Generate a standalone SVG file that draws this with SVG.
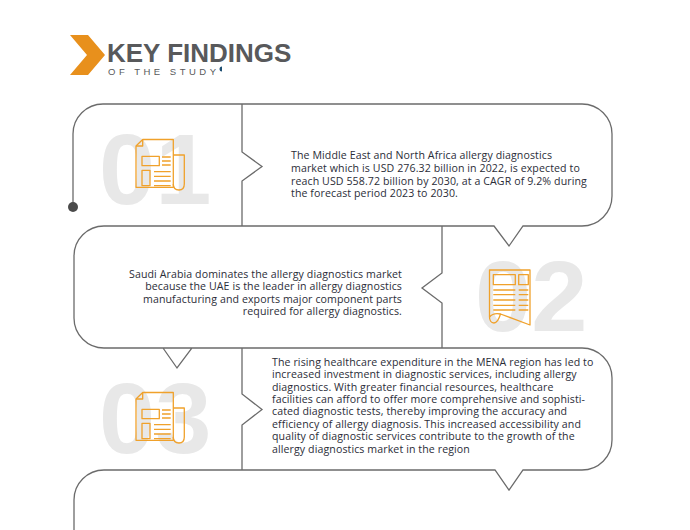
<svg xmlns="http://www.w3.org/2000/svg" width="690" height="530" viewBox="0 0 690 530">
<style>
.line{fill:none;stroke:#6b6b6b;stroke-width:1.3;stroke-linejoin:miter}
.num{font-family:"Liberation Sans",Arial,sans-serif;font-weight:bold;font-size:101px;fill:#e8e8e8}
.body{font-family:"Open Sans","Liberation Sans",sans-serif;font-size:10.6px;letter-spacing:0.1px;fill:#2b2d38}
.ico{fill:none;stroke:#f0a12b;stroke-width:1.3;stroke-linejoin:round}
</style>
<rect width="690" height="530" fill="#ffffff"/>
<g id="header">
<path d="M70,35 H88 L105,55 L88,75 H70 L87,55 Z" fill="#e8901c"/>
<text x="107" y="62" font-family="Liberation Sans,Arial,sans-serif" font-weight="bold" font-size="26" fill="#58595b">KEY FINDINGS</text>
<text x="108" y="74.5" font-family="Liberation Sans,Arial,sans-serif" font-size="9.5" letter-spacing="3.5" fill="#58595b">OF THE STUDY</text>
<path d="M222,66.5 A2.5,2.5 0 0 0 222,71.5 Z" fill="#1d4e72"/>
</g>
<g id="connectors">
<path class="line" d="M73,207 V134 A30,30 0 0 1 103,104 H582 A30,30 0 0 1 612,134 V196 A30,30 0 0 1 582,226 H523 L509,246 L494,226 H104 A30,30 0 0 0 74,256 V318 A30,30 0 0 0 104,348 H192 L177,368 L163,348 M192,348 H582 A30,30 0 0 1 612,378 V440 A30,30 0 0 1 582,470 H523 L509,490 L495,470 H104 A30,30 0 0 0 74,500 V530"/>
<path class="line" d="M242,104 V152 L262,166.5 L242,181 V226"/>
<path class="line" d="M442,226 V273 L422,288 L442,303 V348"/>
<path class="line" d="M242,348 V394 L262,409.5 L242,425 V470"/>
<circle cx="73" cy="207" r="5" fill="#4a4a4a"/>
</g>
<g id="finding1">
<text class="num" x="99" y="204">01</text>
<g class="ico">
<path d="M136,146 L142.7,139.5 H173.3 V187.3 H136 Z"/>
<path d="M142.7,139.5 V146 H136"/>
<path d="M173.3,155 H184.3 V184 Q184.3,190 179,190 Q173.3,190 173.3,184"/>
<rect x="142" y="156.3" width="17.3" height="9.4"/>
<rect x="142" y="170.3" width="8" height="15.4"/>
<path d="M162,157 H170.7 M162,161 H170.7 M162,165 H170.7 M154,171.7 H170.7 M154,176.3 H170.7 M154,181 H170.7 M154,185.7 H170.7"/>
</g>
<text class="body"><tspan x="291" y="159">The Middle East and North Africa allergy diagnostics</tspan><tspan x="291" y="171.8">market which is USD 276.32 billion in 2022, is expected to</tspan><tspan x="291" y="184.6">reach USD 558.72 billion by 2030, at a CAGR of 9.2% during</tspan><tspan x="291" y="197.4">the forecast period 2023 to 2030.</tspan></text>
</g>
<g id="finding2">
<text class="num" x="475" y="331">02</text>
<g class="ico">
<path d="M489.5,270 H530 V325 L500.5,314 C499,319 497,323 494,323 C491,323 489.5,320 489.5,317 Z"/>
<path d="M500.5,314 C496,313 492,314 489.5,317"/>
<rect x="493.3" y="274.7" width="22" height="10"/>
<rect x="518.7" y="274.7" width="9.6" height="10"/>
<path d="M493.3,290 H515.3 M518.7,290 H528.3 M493.3,294.7 H515.3 M518.7,294.7 H528.3 M493.3,300 H515.3 M518.7,300 H528.3 M493.3,305.3 H515.3 M518.7,305.3 H528.3 M493.3,310 H515.3 M518.7,310 H528.3"/>
</g>
<text class="body" text-anchor="end"><tspan x="402" y="277.5">Saudi Arabia dominates the allergy diagnostics market</tspan><tspan x="402" y="290">because the UAE is the leader in allergy diagnostics</tspan><tspan x="402" y="302.5">manufacturing and exports major component parts</tspan><tspan x="402" y="315">required for allergy diagnostics.</tspan></text>
</g>
<g id="finding3">
<text class="num" x="99" y="453">03</text>
<g class="ico" transform="translate(0,253)">
<path d="M136,146 L142.7,139.5 H173.3 V187.3 H136 Z"/>
<path d="M142.7,139.5 V146 H136"/>
<path d="M173.3,155 H184.3 V184 Q184.3,190 179,190 Q173.3,190 173.3,184"/>
<rect x="142" y="156.3" width="17.3" height="9.4"/>
<rect x="142" y="170.3" width="8" height="15.4"/>
<path d="M162,157 H170.7 M162,161 H170.7 M162,165 H170.7 M154,171.7 H170.7 M154,176.3 H170.7 M154,181 H170.7 M154,185.7 H170.7"/>
</g>
<text class="body"><tspan x="272" y="366">The rising healthcare expenditure in the MENA region has led to</tspan><tspan x="272" y="378.4">increased investment in diagnostic services, including allergy</tspan><tspan x="272" y="390.7">diagnostics. With greater financial resources, healthcare</tspan><tspan x="272" y="403.1">facilities can afford to offer more comprehensive and sophisti-</tspan><tspan x="272" y="415.4">cated diagnostic tests, thereby improving the accuracy and</tspan><tspan x="272" y="427.8">efficiency of allergy diagnosis. This increased accessibility and</tspan><tspan x="272" y="440.2">quality of diagnostic services contribute to the growth of the</tspan><tspan x="272" y="452.5">allergy diagnostics market in the region</tspan></text>
</g>
</svg>
